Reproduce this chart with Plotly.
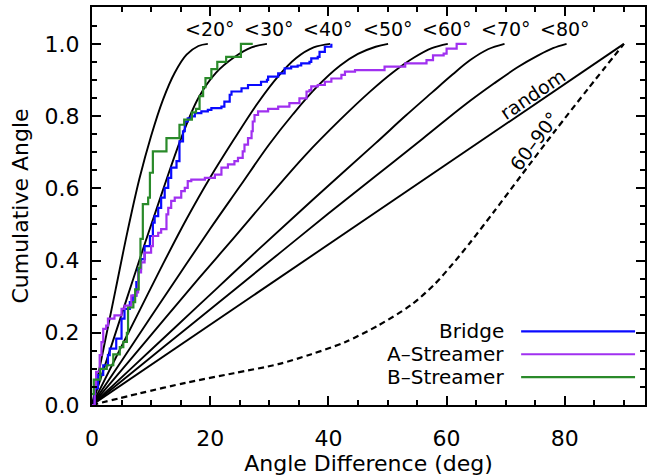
import plotly.graph_objects as go

FONT = "DejaVu Sans, sans-serif"

# ---- model curves ----
lt20_x = [0, 2, 4, 6, 8, 10, 12, 14, 16, 18, 19.6]
lt20_y = [0, 0.16, 0.32, 0.48, 0.625, 0.745, 0.845, 0.92, 0.97, 0.994, 1.0]

lt30_x = [0, 3, 6, 9, 12, 15, 18, 21, 24, 27, 29.6]
lt30_y = [0, 0.15, 0.30, 0.45, 0.595, 0.735, 0.85, 0.92, 0.962, 0.99, 1.0]

lt40_x = [0, 4, 8, 12, 16, 20, 24, 28, 31.5, 34.5, 37.5, 40.3]
lt40_y = [0, 0.13, 0.26, 0.39, 0.515, 0.63, 0.735, 0.835, 0.91, 0.96, 0.99, 1.0]

lt50_x = [0, 5, 10, 15, 20, 25, 30, 34, 38, 42, 45, 48, 50.1]
lt50_y = [0, 0.122, 0.245, 0.367, 0.488, 0.605, 0.722, 0.805, 0.88, 0.94, 0.972, 0.992, 1.0]

lt60_x = [0, 6, 12, 18, 24, 30, 36, 42, 47, 51, 54.5, 57.5, 60.2]
lt60_y = [0, 0.116, 0.233, 0.349, 0.463, 0.578, 0.69, 0.79, 0.867, 0.922, 0.962, 0.988, 1.0]

lt70_x = [0, 7, 14, 21, 28, 35, 42, 48, 53, 57.5, 61, 64, 67, 69.8]
lt70_y = [0, 0.107, 0.214, 0.321, 0.428, 0.533, 0.637, 0.725, 0.80, 0.865, 0.915, 0.955, 0.985, 1.0]

lt80_x = [0, 8, 16, 24, 32, 40, 48, 56, 63, 68, 72, 75.5, 78, 80.3]
lt80_y = [0, 0.106, 0.212, 0.318, 0.424, 0.53, 0.634, 0.738, 0.83, 0.89, 0.935, 0.968, 0.988, 1.0]

model_x = [lt20_x, lt30_x, lt40_x, lt50_x, lt60_x, lt70_x, lt80_x]
model_y = [lt20_y, lt30_y, lt40_y, lt50_y, lt60_y, lt70_y, lt80_y]
model_labels = ["<20°", "<30°", "<40°", "<50°", "<60°", "<70°", "<80°"]
model_label_x = [20, 30, 40, 50, 60, 70, 80]
model_label_y = 1.04

random_x = [0, 90]
random_y = [0, 1.0]

perp_x = [0, 8, 16, 24, 31.5, 37, 42.8, 48.4, 54, 58, 61, 64, 68, 72.6, 78.3, 84, 90]
perp_y = [0, 0.032, 0.062, 0.088, 0.113, 0.14, 0.174, 0.22, 0.277, 0.335, 0.39, 0.45, 0.535,
          0.635, 0.758, 0.877, 1.0]

# ---- observed cumulative distributions (steps) ----
bridge_x = [0, 0.45, 1.0, 1.9, 2.7, 3.0, 4.1, 5.0, 5.5, 6.4, 6.9, 7.5, 7.8, 8.3, 8.9, 9.8,
            10.3, 10.6, 11.2, 11.7, 12.3, 12.9, 13.4, 14.3, 14.8, 15.4, 15.7, 16.2, 16.8,
            17.4, 18.5, 19.6, 20.2, 21.9, 22.4, 23.3, 23.6, 25.3, 26.4, 28.6, 29.6, 29.8,
            31.5, 32.6, 33.7, 34.8, 35.4, 36.8, 37.1, 38.2, 38.5, 39.4, 40.5]
bridge_y = [0, 0.046, 0.083, 0.11, 0.138, 0.156, 0.184, 0.239, 0.266, 0.285, 0.303, 0.34,
            0.377, 0.404, 0.44, 0.468, 0.505, 0.523, 0.546, 0.574, 0.601, 0.629, 0.657,
            0.675, 0.73, 0.758, 0.785, 0.794, 0.799, 0.808, 0.813, 0.817, 0.822, 0.826,
            0.84, 0.859, 0.868, 0.877, 0.886, 0.895, 0.90, 0.909, 0.918, 0.932, 0.937,
            0.94, 0.946, 0.95, 0.96, 0.964, 0.978, 0.992, 1.0]

astr_x = [0, 0.45, 0.7, 1.3, 1.6, 1.9, 2.4, 2.7, 3.8, 5.0, 5.5, 6.65, 7.5, 7.8, 8.3, 8.9,
          10.0, 10.3, 11.2, 11.7, 12.6, 12.9, 13.4, 14.0, 15.1, 15.7, 16.2, 16.8, 19.1,
          20.8, 21.9, 23.0, 24.1, 24.7, 25.5, 25.8, 26.4, 27.0, 27.2, 27.5, 28.1, 29.8,
          31.5, 33.4, 35.1, 36.3, 36.8, 37.1, 38.2, 39.4, 40.5, 42.2, 42.8, 44.5, 49.5,
          53.0, 56.6, 57.7, 59.5, 60.0, 61.7, 63.4]
astr_y = [0, 0.055, 0.092, 0.138, 0.174, 0.211, 0.22, 0.239, 0.248, 0.266, 0.275, 0.303,
          0.312, 0.367, 0.395, 0.422, 0.44, 0.468, 0.477, 0.487, 0.528, 0.546, 0.565,
          0.574, 0.592, 0.601, 0.62, 0.624, 0.629, 0.638, 0.657, 0.666, 0.675, 0.684,
          0.702, 0.721, 0.739, 0.758, 0.785, 0.803, 0.813, 0.82, 0.826, 0.836, 0.849,
          0.868, 0.872, 0.882, 0.886, 0.895, 0.904, 0.914, 0.923, 0.927, 0.937, 0.946,
          0.955, 0.968, 0.973, 0.987, 1.0, 1.0]

bstr_x = [0, 0.3, 1.4, 2.5, 3.6, 4.7, 5.3, 5.9, 6.1, 7.0, 7.3, 7.9, 8.2, 8.6, 9.5, 9.8,
          10.3, 12.6, 14.8, 15.6, 16.9, 17.6, 18.2, 18.8, 19.2, 20.2, 21.2, 22.7, 25.2, 27.2]
bstr_y = [0.03, 0.07, 0.10, 0.11, 0.14, 0.16, 0.175, 0.20, 0.27, 0.285, 0.32, 0.38, 0.46,
          0.556, 0.574, 0.643, 0.702, 0.739, 0.776, 0.79, 0.81, 0.82, 0.855, 0.88, 0.905,
          0.93, 0.95, 0.964, 1.0, 1.0]

series_names = ["Bridge", "A–Streamer", "B–Streamer"]
series_x = [bridge_x, astr_x, bstr_x]
series_y = [bridge_y, astr_y, bstr_y]
series_colors = ["#0a0aff", "#a030f0", "#2a8a2a"]

x_ticks = [0, 20, 40, 60, 80]
y_ticks = [0.0, 0.2, 0.4, 0.6, 0.8, 1.0]

fig = go.Figure()

for mx, my in zip(model_x, model_y):
    fig.add_trace(go.Scatter(x=mx, y=my, mode="lines",
                             line=dict(color="black", width=1.9, shape="spline", smoothing=1.0),
                             showlegend=False, hoverinfo="skip"))

fig.add_trace(go.Scatter(x=random_x, y=random_y, mode="lines",
                         line=dict(color="black", width=1.9), showlegend=False))
fig.add_trace(go.Scatter(x=perp_x, y=perp_y, mode="lines",
                         line=dict(color="black", width=2.2, dash="6px,4px", shape="spline", smoothing=0.8),
                         showlegend=False))

for sx, sy, nm, col in zip(series_x, series_y, series_names, series_colors):
    fig.add_trace(go.Scatter(x=sx, y=sy, mode="lines", name=nm,
                             line=dict(color=col, width=2.2, shape="hv"), showlegend=False))

# labels on model curves
for lab, lx in zip(model_labels, model_label_x):
    fig.add_annotation(x=lx, y=model_label_y, text=lab, showarrow=False,
                       font=dict(family=FONT, size=19, color="black"),
                       xanchor="center", yanchor="middle")

fig.add_annotation(x=74.6, y=0.86, text="random", textangle=-34, showarrow=False,
                   font=dict(family=FONT, size=19, color="black"))
fig.add_annotation(x=74.9, y=0.73, text="60–90°", textangle=-53, showarrow=False,
                   font=dict(family=FONT, size=19, color="black"))

# manual legend
leg_y = [0.185, 0.1275, 0.07]
for nm, col, ly in zip(series_names, series_colors, leg_y):
    fig.add_annotation(xref="paper", yref="paper", x=0.748, y=ly, text=nm,
                       showarrow=False, xanchor="right", yanchor="middle",
                       font=dict(family=FONT, size=20, color="black"))
    fig.add_shape(type="line", xref="paper", yref="paper", x0=0.776, x1=0.982, y0=ly, y1=ly,
                  line=dict(color=col, width=2.2))

axis_common = dict(showgrid=False, zeroline=False, showline=True, linecolor="black",
                   linewidth=2, mirror="allticks", ticks="inside", tickcolor="black",
                   tickwidth=1.5, ticklen=9,
                   tickfont=dict(family=FONT, size=22, color="black"))

fig.update_xaxes(range=[0, 93.57], tickvals=x_ticks, ticktext=[str(v) for v in x_ticks],
                 minor=dict(ticks="inside", dtick=5, tick0=0, ticklen=5, tickwidth=1.5, tickcolor="black"),
                 title=dict(text="Angle Difference (deg)", font=dict(family=FONT, size=22, color="black"), standoff=0),
                 ticklabelstandoff=13, **axis_common)
fig.update_yaxes(range=[0, 1.102], tickvals=y_ticks, ticktext=["%.1f" % v for v in y_ticks],
                 minor=dict(ticks="inside", dtick=0.05, tick0=0, ticklen=5, tickwidth=1.5, tickcolor="black"),
                 title=dict(text="Cumulative Angle", font=dict(family=FONT, size=22, color="black"), standoff=10),
                 ticklabelstandoff=6, **axis_common)

fig.update_layout(width=652, height=476, margin=dict(l=92, r=7, t=5, b=71),
                  paper_bgcolor="white", plot_bgcolor="white", showlegend=False)

fig.write_html("out.html")
